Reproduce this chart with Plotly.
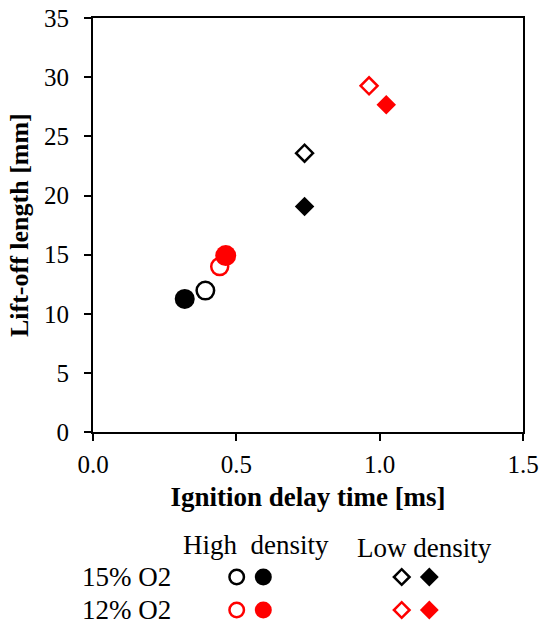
import plotly.graph_objects as go

# Data (ignition delay time [ms], lift-off length [mm])
hd15_open_x = [0.392]; hd15_open_y = [11.97]
hd15_fill_x = [0.320]; hd15_fill_y = [11.27]
hd12_open_x = [0.442]; hd12_open_y = [14.0]
hd12_fill_x = [0.463]; hd12_fill_y = [14.93]
ld15_open_x = [0.738]; ld15_open_y = [23.58]
ld15_fill_x = [0.738]; ld15_fill_y = [19.07]
ld12_open_x = [0.963]; ld12_open_y = [29.27]
ld12_fill_x = [1.023]; ld12_fill_y = [27.67]

x_ticks = [0.0, 0.5, 1.0, 1.5]
x_tick_labels = ["0.0", "0.5", "1.0", "1.5"]
y_ticks = [0, 5, 10, 15, 20, 25, 30, 35]

FONT = "Liberation Serif"
RED = "#ff0000"
BLK = "#000000"

fig = go.Figure()

def add(x, y, symbol, color, filled, size, xa="x", ya="y"):
    fig.add_trace(go.Scatter(
        x=x, y=y, mode="markers", xaxis=xa, yaxis=ya, showlegend=False,
        marker=dict(symbol=symbol, size=size,
                    color=color if filled else "white",
                    line=dict(color=color, width=0 if filled else 2.5)),
    ))

add(hd15_open_x, hd15_open_y, "circle", BLK, False, 17.5)
add(hd15_fill_x, hd15_fill_y, "circle", BLK, True, 20)
add(hd12_open_x, hd12_open_y, "circle", RED, False, 17)
add(hd12_fill_x, hd12_fill_y, "circle", RED, True, 21)
add(ld15_open_x, ld15_open_y, "diamond", BLK, False, 13)
add(ld15_fill_x, ld15_fill_y, "diamond", BLK, True, 15)
add(ld12_open_x, ld12_open_y, "diamond", RED, False, 13)
add(ld12_fill_x, ld12_fill_y, "diamond", RED, True, 15)

# Custom key below the plot (drawn on a helper axis in pixel-like units)
key_x = [236.7, 263.3, 401.7, 429.3]
key_rows = [(577, BLK), (610, RED)]
for ky, col in key_rows:
    add([key_x[0]], [ky], "circle", col, False, 14.5, "x2", "y2")
    add([key_x[1]], [ky], "circle", col, True, 17, "x2", "y2")
    add([key_x[2]], [ky], "diamond", col, False, 12, "x2", "y2")
    add([key_x[3]], [ky], "diamond", col, True, 14.5, "x2", "y2")

W, H = 545, 628
ml, mr, mt, mb = 93, 22, 18, 5
plot_bottom = 432.3
ydom0 = (H - mb - plot_bottom) / (H - mt - mb)

fig.update_layout(
    width=W, height=H,
    margin=dict(l=ml, r=mr, t=mt, b=mb, autoexpand=False),
    paper_bgcolor="white", plot_bgcolor="white",
    font=dict(family=FONT, size=24, color="black"),
    xaxis=dict(
        range=[0, 1.5], tickvals=x_ticks, ticktext=x_tick_labels,
        showgrid=False, zeroline=False, showline=True, linecolor="black",
        linewidth=2, mirror=True, ticks="outside", ticklen=7, tickwidth=2,
        tickcolor="black", tickfont=dict(size=25, family=FONT),
        ticklabelstandoff=2,
        title=dict(text="<b>Ignition delay time [ms]</b>",
                   font=dict(size=27, family=FONT), standoff=10),
        anchor="y", domain=[0, 1],
    ),
    yaxis=dict(
        range=[0, 35], tickvals=y_ticks,
        showgrid=False, zeroline=False, showline=True, linecolor="black",
        linewidth=2, mirror=True, ticks="outside", ticklen=7, tickwidth=2,
        tickcolor="black", tickfont=dict(size=25, family=FONT),
        ticklabelstandoff=10,
        title=dict(text="<b>Lift-off length [mm]</b>",
                   font=dict(size=26, family=FONT), standoff=8),
        domain=[ydom0, 1], anchor="x",
    ),
    xaxis2=dict(range=[ml, W - mr], visible=False, domain=[0, 1],
                anchor="y2", fixedrange=True),
    yaxis2=dict(range=[H - mb, plot_bottom], visible=False,
                domain=[0, ydom0], anchor="x2", fixedrange=True),
)

def label(text, x, y):
    fig.add_annotation(text=text, x=x, y=y, xref="x2", yref="y2",
                       showarrow=False, font=dict(family=FONT, size=27),
                       xanchor="center", yanchor="middle")

label("High  density", 255.5, 545)
label("Low density", 424, 548)
label("15% O2", 126, 577)
label("12% O2", 126, 610)

fig.write_html("out.html")
